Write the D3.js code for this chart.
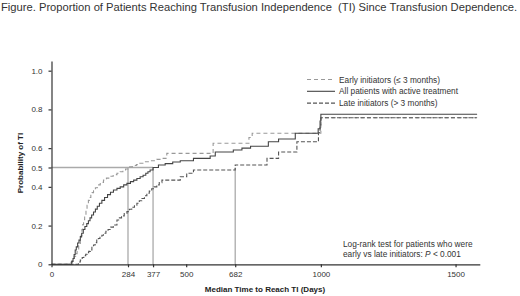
<!DOCTYPE html>
<html>
<head>
<meta charset="utf-8">
<script src="https://cdn.jsdelivr.net/npm/d3@7"></script>
<style>
  body { margin: 0; background: #fff; }
  svg { font-family: "Liberation Sans", Arial, sans-serif; }
  .axis path, .axis line { stroke: #333; stroke-width: 1.2; }
  .axis text { font-size: 8px; fill: #333; }
</style>
</head>
<body>
<div id="chart"></div>
<script>
// Kaplan-Meier style curves: [days, probability]
const earlyInitiators = [
  [0, 0], [66, 0], [72, 0.01], [77, 0.02], [84, 0.04], [90, 0.055], [95, 0.07],
  [101, 0.095], [107, 0.125], [110, 0.15], [113, 0.18], [116, 0.205], [119, 0.23],
  [123, 0.255], [128, 0.28], [132, 0.305], [137, 0.33], [141, 0.345], [146, 0.36],
  [151, 0.37], [156, 0.38], [163, 0.395], [170, 0.41], [181, 0.423], [193, 0.435],
  [204, 0.445], [215, 0.455], [229, 0.463], [243, 0.47], [255, 0.478], [265, 0.485],
  [275, 0.492], [284, 0.503], [300, 0.51], [315, 0.515], [328, 0.522], [342, 0.53],
  [365, 0.535], [391, 0.542], [410, 0.547], [428, 0.573], [600, 0.625], [733, 0.655],
  [745, 0.677], [1000, 0.757], [1580, 0.757]
];
const allPatients = [
  [0, 0], [70, 0], [75, 0.015], [80, 0.03], [84, 0.05], [88, 0.074], [92, 0.09],
  [97, 0.11], [102, 0.125], [107, 0.143], [112, 0.16], [118, 0.18], [124, 0.195],
  [131, 0.21], [137, 0.225], [143, 0.24], [149, 0.255], [156, 0.27], [163, 0.285],
  [170, 0.3], [178, 0.315], [187, 0.33], [197, 0.345], [208, 0.36], [219, 0.372],
  [230, 0.384], [243, 0.392], [255, 0.4], [268, 0.41], [280, 0.418], [293, 0.427],
  [305, 0.435], [317, 0.443], [329, 0.452], [340, 0.46], [350, 0.47], [358, 0.478],
  [366, 0.487], [377, 0.5], [397, 0.513], [422, 0.52], [450, 0.528], [478, 0.535],
  [527, 0.547], [589, 0.559], [608, 0.58], [675, 0.59], [707, 0.6], [739, 0.61],
  [805, 0.633], [843, 0.647], [905, 0.677], [990, 0.7], [997, 0.74], [1000, 0.775],
  [1580, 0.775]
];
const lateInitiators = [
  [0, 0], [85, 0], [100, 0.012], [107, 0.022], [114, 0.035], [120, 0.045], [127, 0.052],
  [133, 0.06], [138, 0.067], [144, 0.074], [150, 0.088], [156, 0.1], [162, 0.112],
  [168, 0.125], [174, 0.133], [180, 0.14], [187, 0.15], [193, 0.16], [202, 0.17],
  [210, 0.18], [220, 0.192], [230, 0.203], [243, 0.229], [252, 0.24], [260, 0.25],
  [270, 0.262], [280, 0.272], [289, 0.284], [298, 0.295], [308, 0.305], [317, 0.315],
  [326, 0.328], [335, 0.34], [345, 0.354], [354, 0.367], [363, 0.378], [372, 0.39],
  [381, 0.4], [391, 0.41], [400, 0.422], [410, 0.435], [478, 0.452], [502, 0.47],
  [527, 0.487], [682, 0.513], [800, 0.547], [843, 0.58], [911, 0.633], [991, 0.68],
  [997, 0.72], [1000, 0.757], [1580, 0.757]
];
const medians = [284, 377, 682];
const xTicks = [0, 284, 377, 500, 682, 1000, 1500];
const yTicks = [0, 0.2, 0.4, 0.5, 0.6, 0.8, 1.0];
const legendLabels = ["Early initiators (\u2264 3 months)", "All patients with active treatment", "Late initiators (> 3 months)"];

const width = 520, height = 296;
const svg = d3.select("#chart").append("svg")
  .attr("width", width)
  .attr("height", height);

svg.append("text")
  .attr("x", 1)
  .attr("y", 11)
  .attr("font-size", 11.2)
  .attr("fill", "#333")
  .style("white-space", "pre")
  .text("Figure. Proportion of Patients Reaching Transfusion Independence  (TI) Since Transfusion Dependence.");

const x = d3.scaleLinear().domain([0, 1590]).range([51.5, 479.8]);
const y = d3.scaleLinear().domain([0, 1.05]).range([264.3, 61]);

// median reference lines
svg.append("line")
  .attr("x1", x(0)).attr("x2", x(377))
  .attr("y1", y(0.5)).attr("y2", y(0.5))
  .attr("stroke", "#aaa").attr("stroke-width", 1.3);
svg.selectAll(".median")
  .data(medians)
  .enter()
  .append("line")
    .attr("class", "median")
    .attr("x1", d => x(d)).attr("x2", d => x(d))
    .attr("y1", y(0)).attr("y2", y(0.5))
    .attr("stroke", "#aaa").attr("stroke-width", 1.3);

const line = d3.line()
  .x(d => x(d[0]))
  .y(d => y(d[1]))
  .curve(d3.curveStepAfter);

const series = [
  {data: earlyInitiators, color: "#999", dash: "4,3"},
  {data: allPatients, color: "#444", dash: null},
  {data: lateInitiators, color: "#555", dash: "4,2"}
];

series.forEach(s => {
  svg.append("path")
    .attr("d", line(s.data))
    .attr("fill", "none")
    .attr("stroke", s.color)
    .attr("stroke-width", 1.1)
    .attr("stroke-dasharray", s.dash);
});

// axes
svg.append("g")
  .attr("class", "axis")
  .attr("transform", `translate(0,${y(0)})`)
  .call(d3.axisBottom(x).tickValues(xTicks).tickSize(3).tickSizeOuter(0).tickPadding(4).tickFormat(d3.format("d")));

svg.append("g")
  .attr("class", "axis")
  .attr("transform", `translate(${x(0)},0)`)
  .call(d3.axisLeft(y).tickValues(yTicks).tickSize(3).tickSizeOuter(0).tickPadding(6)
    .tickFormat(d => d === 0 ? "0" : d.toFixed(1)));

svg.append("text")
  .attr("x", 265)
  .attr("y", 292)
  .attr("text-anchor", "middle")
  .attr("font-size", 8)
  .attr("font-weight", "bold")
  .attr("fill", "#222")
  .text("Median Time to Reach TI (Days)");

svg.append("text")
  .attr("transform", "translate(23,163) rotate(-90)")
  .attr("text-anchor", "middle")
  .attr("font-size", 8)
  .attr("font-weight", "bold")
  .attr("fill", "#222")
  .text("Probability of TI");

// legend
const legend = svg.append("g");
legendLabels.forEach((lab, i) => {
  const ly = 79.5 + i * 11.8;
  legend.append("line")
    .attr("x1", 307).attr("x2", 335)
    .attr("y1", ly).attr("y2", ly)
    .attr("stroke", series[i].color)
    .attr("stroke-width", 1.1)
    .attr("stroke-dasharray", series[i].dash);
  legend.append("text")
    .attr("x", 339)
    .attr("y", ly + 3)
    .attr("font-size", 8.3)
    .attr("fill", "#333")
    .text(lab);
});

const note = svg.append("text")
  .attr("font-size", 8.3)
  .attr("fill", "#333");
note.append("tspan").attr("x", 343).attr("y", 247).text("Log-rank test for patients who were");
const l2 = note.append("tspan").attr("x", 343).attr("y", 256.5);
l2.append("tspan").text("early vs late initiators: ");
l2.append("tspan").attr("font-style", "italic").text("P");
l2.append("tspan").text(" < 0.001");
</script>
</body>
</html>
